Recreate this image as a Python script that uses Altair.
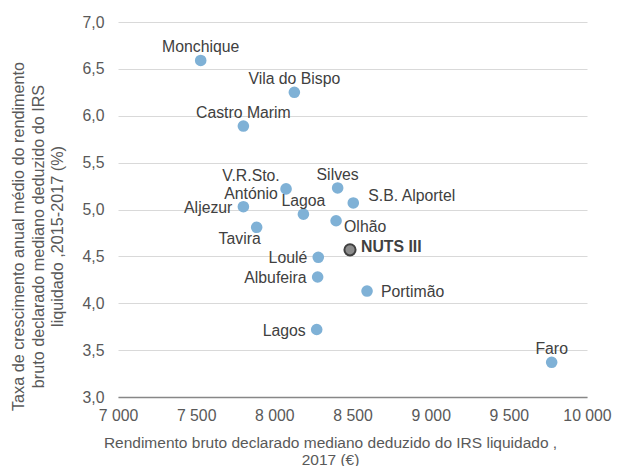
import altair as alt
import pandas as pd

# ---- data ----
names = ["Monchique", "Vila do Bispo", "Castro Marim", "V.R.Sto.\nAntónio", "Silves",
         "S.B. Alportel", "Aljezur", "Lagoa", "Olhão", "Tavira", "NUTS III",
         "Loulé", "Albufeira", "Portimão", "Lagos", "Faro"]
income_2017 = [7529, 8128, 7802, 8075, 8405, 8505, 7802, 8186, 8395, 7887, 8484,
               8281, 8277, 8593, 8271, 9774]
growth_2015_2017 = [6.59, 6.25, 5.89, 5.22, 5.23, 5.07, 5.03, 4.95, 4.88, 4.81, 4.57,
                    4.49, 4.28, 4.13, 3.72, 3.37]
placement = ["above", "above", "above", "two_lines", "above", "right_up", "left", "above",
             "right_down", "below_left", "nuts", "left", "left", "right", "left", "above"]
x_ticks = [7000, 7500, 8000, 8500, 9000, 9500, 10000]
y_ticks = [3.0, 3.5, 4.0, 4.5, 5.0, 5.5, 6.0, 6.5, 7.0]

df = pd.DataFrame({"name": names, "x": income_2017, "y": growth_2015_2017, "pos": placement})

FONT = "Liberation Sans"
LABEL_COLOR = "#404040"
AXIS_COLOR = "#595959"

x_enc = alt.X("x:Q",
              scale=alt.Scale(domain=[7000, 10000], nice=False, zero=False),
              axis=alt.Axis(values=x_ticks,
                            labelExpr="replace(format(datum.value, ','), ',', ' ')",
                            title=["Rendimento bruto declarado mediano deduzido do IRS liquidado ,",
                                   "2017 (€)"],
                            grid=False, ticks=False, domain=True,
                            domainColor="#878787", domainWidth=1.6,
                            labelFlush=False,
                            labelPadding=11, labelFontSize=15.8, labelColor=AXIS_COLOR,
                            labelFont=FONT,
                            titleFont=FONT, titleFontSize=15.5, titleFontWeight="normal",
                            titleColor=AXIS_COLOR, titleLineHeight=17,
                            titleX=212, titleY=50, titleAlign="center",
                            titleBaseline="alphabetic"))
y_enc = alt.Y("y:Q",
              scale=alt.Scale(domain=[3, 7], nice=False, zero=False),
              axis=alt.Axis(values=y_ticks,
                            labelExpr="replace(format(datum.value, '.1f'), '.', ',')",
                            title=["Taxa de crescimento anual médio do rendimento",
                                   "bruto declarado mediano deduzido do IRS",
                                   "liquidado ,2015-2017 (%)"],
                            grid=True, gridColor="#D9D9D9", gridWidth=1,
                            ticks=False, domain=False, labelFlush=False,
                            labelPadding=14, labelFontSize=15.8, labelColor=AXIS_COLOR,
                            labelFont=FONT,
                            titleFont=FONT, titleFontSize=16.2, titleFontWeight="normal",
                            titleColor=AXIS_COLOR, titleLineHeight=19.5,
                            titleAngle=270, titleX=-94.5, titleY=214,
                            titleAlign="center", titleBaseline="alphabetic"))

base = alt.Chart(df)

points = base.transform_filter(alt.datum.pos != "nuts").mark_circle(
    size=135, opacity=1, color="#7FB1D6").encode(x=x_enc, y=y_enc)

nuts_point = base.transform_filter(alt.datum.pos == "nuts").mark_point(
    shape="circle", size=125, filled=True, fill="#8C8C8C", stroke="#404040",
    strokeWidth=2, opacity=1).encode(x="x:Q", y="y:Q")


def text_layer(pos, **kw):
    params = dict(font=FONT, fontSize=15.8, color=LABEL_COLOR, baseline="middle")
    params.update(kw)
    return base.transform_filter(alt.datum.pos == pos).mark_text(**params).encode(
        x="x:Q", y="y:Q", text="name:N")


labels = [
    text_layer("above", align="center", dy=-13),
    text_layer("left", align="right", dx=-11, dy=1),
    text_layer("right", align="left", dx=14, dy=1),
    text_layer("right_up", align="left", dx=15, dy=-7),
    text_layer("right_down", align="left", dx=8, dy=6),
    text_layer("below_left", align="center", dx=-17, dy=12),
    text_layer("two_lines", align="center", dx=-35, dy=-13, lineBreak="\n", lineHeight=18),
    text_layer("nuts", align="left", dx=11, dy=-3, fontWeight="bold"),
]

chart = alt.layer(points, nuts_point, *labels).properties(
    width=469, height=375,
    autosize=alt.AutoSizeParams(type="none"),
    padding={"left": 110, "top": 14, "right": 26, "bottom": 72},
    background="white",
).configure_view(strokeWidth=0)

chart.save("out.html", embed_options={"renderer": "svg", "actions": False})
